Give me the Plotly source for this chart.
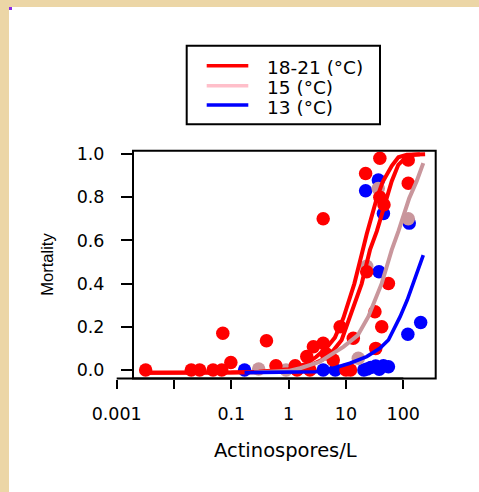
import math
import plotly.graph_objects as go

# ---------------- data ----------------
# observed mortality points
red_x = [0.0032, 0.020, 0.028, 0.048, 0.068, 0.071, 0.098, 0.41, 0.6, 1.3, 1.4, 2.07, 2.35, 2.7,
         4.0, 4.0, 4.5, 6.0, 7.9, 10, 12, 13.4, 22, 23, 32, 33, 39, 39, 46, 42, 55, 122, 122]
red_y = [0, 0, 0, 0, 0, 0.17, 0.035, 0.135, 0.02, 0.02, 0.0, 0.062, 0.0, 0.108,
         0.124, 0.70, 0.075, 0.046, 0.20, 0, 0, 0.147, 0.91, 0.455, 0.27, 0.10, 0.98, 0.80, 0.765, 0.20, 0.40, 0.972, 0.865]

pink_x = [0.3, 0.9, 16.4, 23, 36.5, 122]
pink_y = [0.005, 0.0, 0.054, 0.48, 0.84, 0.70]

blue_x = [0.17, 4.0, 6.5, 20.5, 23.5, 27, 33, 38, 45, 55, 22, 36.7, 45, 37.7, 127, 120, 201]
blue_y = [0, 0, 0, 0, 0.005, 0.012, 0.018, 0.003, 0.02, 0.015, 0.83, 0.88, 0.725, 0.455, 0.68, 0.165, 0.22]

# fitted curves
red_fit1_x = [0.0032, 0.03, 0.1, 0.3, 1, 2, 3, 4.5, 6.4, 9, 14, 19, 23, 34, 43.5, 63, 82, 115, 240]
red_fit1_y = [-0.013, -0.013, -0.012, -0.008, 0.004, 0.028, 0.06, 0.10, 0.15, 0.24, 0.40, 0.54, 0.63, 0.79, 0.87, 0.945, 0.985, 0.997, 0.999]

red_fit2_x = [0.0032, 0.1, 0.3, 1, 2, 4, 6, 8.4, 11.7, 18.8, 26.2, 34.4, 51.3, 62.8, 81.8, 107, 140, 195]
red_fit2_y = [-0.013, -0.012, -0.01, -0.002, 0.012, 0.05, 0.09, 0.139, 0.247, 0.40, 0.556, 0.642, 0.796, 0.874, 0.95, 0.981, 0.995, 0.999]

pink_fit_x = [0.25, 0.5, 1, 1.58, 3.5, 9, 16, 24.5, 32, 42, 51.3, 62.8, 82, 100, 127, 171, 223]
pink_fit_y = [-0.012, -0.01, -0.004, 0.008, 0.038, 0.107, 0.16, 0.247, 0.324, 0.401, 0.478, 0.556, 0.642, 0.719, 0.796, 0.874, 0.958]

blue_fit_x = [0.17, 1, 3, 6, 11.7, 23, 39, 55, 63, 88, 117, 150, 190, 223]
blue_fit_y = [-0.012, -0.011, -0.008, 0.008, 0.031, 0.062, 0.100, 0.139, 0.17, 0.247, 0.324, 0.401, 0.478, 0.532]

legend_labels = ["18-21 (\u00b0C)", "15 (\u00b0C)", "13 (\u00b0C)"]
x_tick_vals = [0.001, 0.01, 0.1, 1, 10, 100]
x_tick_text = ["0.001", "", "0.1", "1", "10", "100"]
y_tick_vals = [0, 0.2, 0.4, 0.6, 0.8, 1.0]
y_tick_text = ["0.0", "0.2", "0.4", "0.6", "0.8", "1.0"]

# ---------------- styling / layout ----------------
W, H = 479, 492
RED = "#ff0000"
PINK_PLOT = "#c9969c"
PINK_LEG = "#ffbfca"
BLUE = "#0000ff"
FONT = "DejaVu Sans"

def fx(p):
    return p / W

def fy(p):
    return 1 - p / H

x_dom = [fx(116.7), fx(435.7)]
x_rng = [-3.0, 2.565]
y_dom = [fy(378.5), fy(150.7)]
y_rng = [-0.0394, 1.0153]

def xfrac(v):
    return x_dom[0] + (math.log10(v) - x_rng[0]) / (x_rng[1] - x_rng[0]) * (x_dom[1] - x_dom[0])

fig = go.Figure()

def pts(x, y, c):
    fig.add_trace(go.Scatter(x=x, y=y, mode="markers", showlegend=False, hoverinfo="skip",
                             marker=dict(size=13.5, color=c, line=dict(width=0))))

def crv(x, y, c, w=4):
    fig.add_trace(go.Scatter(x=x, y=y, mode="lines", showlegend=False, hoverinfo="skip",
                             line=dict(color=c, width=w)))

pts(blue_x, blue_y, BLUE)
pts(pink_x, pink_y, PINK_PLOT)
pts(red_x, red_y, RED)
crv(red_fit1_x, red_fit1_y, RED)
crv(red_fit2_x, red_fit2_y, RED)
crv(pink_fit_x, pink_fit_y, PINK_PLOT)
crv(blue_fit_x, blue_fit_y, BLUE, 3.6)

shapes = []
# white panel on textured paper
shapes.append(dict(type="rect", xref="paper", yref="paper", x0=fx(9), x1=1.01, y0=-0.01, y1=fy(7),
                   fillcolor="white", line=dict(width=0), layer="below"))
shapes.append(dict(type="rect", xref="paper", yref="paper", x0=fx(9), x1=fx(12), y0=fy(10), y1=fy(7),
                   fillcolor="#8a2be2", line=dict(width=0), layer="below"))
# plot box
shapes.append(dict(type="rect", xref="paper", yref="paper", x0=fx(133), x1=x_dom[1], y0=y_dom[0], y1=y_dom[1],
                   line=dict(color="black", width=2), layer="above"))
# x axis line spanning first to last tick
shapes.append(dict(type="line", xref="paper", yref="paper", x0=xfrac(x_tick_vals[0]), x1=xfrac(x_tick_vals[-1]),
                   y0=y_dom[0], y1=y_dom[0], line=dict(color="black", width=2)))

# legend box
shapes.append(dict(type="rect", xref="paper", yref="paper", x0=fx(186.7), x1=fx(380), y0=fy(124.3), y1=fy(45.7),
                   line=dict(color="black", width=2), fillcolor="white"))
leg_colors = [RED, PINK_LEG, BLUE]
leg_ys = [65.7, 85.7, 105.0]
annotations = []
for lab, col, yy in zip(legend_labels, leg_colors, leg_ys):
    shapes.append(dict(type="line", xref="paper", yref="paper", x0=fx(206.7), x1=fx(248.3), y0=fy(yy), y1=fy(yy),
                       line=dict(color=col, width=3.5)))
    annotations.append(dict(text=lab, xref="paper", yref="paper", x=fx(265), y=fy(yy + 2),
                            xanchor="left", yanchor="middle", showarrow=False,
                            font=dict(family=FONT, size=18.5, color="black")))

annotations.append(dict(text="Actinospores/L", xref="paper", yref="paper", x=fx(285), y=fy(450),
                        xanchor="center", yanchor="middle", showarrow=False,
                        font=dict(family=FONT, size=19.5, color="black")))
annotations.append(dict(text="Mortality", xref="paper", yref="paper", x=fx(46.7), y=fy(264),
                        xanchor="center", yanchor="middle", showarrow=False, textangle=-90,
                        font=dict(family="Liberation Sans", size=16.5, color="black")))

fig.update_layout(
    template="none",
    width=W, height=H,
    margin=dict(l=0, r=0, t=0, b=0, pad=0, autoexpand=False),
    paper_bgcolor="#ecd6a6",
    plot_bgcolor="rgba(0,0,0,0)",
    showlegend=False,
    hovermode=False,
    shapes=shapes,
    annotations=annotations,
    xaxis=dict(type="log", domain=x_dom, range=x_rng, tickvals=x_tick_vals, ticktext=x_tick_text,
               ticks="outside", ticklen=9, tickwidth=2, tickcolor="black", automargin=False,
               showline=False, showgrid=False, zeroline=False, anchor="y",
               tickfont=dict(family=FONT, size=17.5, color="black"), ticklabelstandoff=10),
    yaxis=dict(domain=y_dom, range=y_rng, tickvals=y_tick_vals, ticktext=y_tick_text,
               ticks="outside", ticklen=12, tickwidth=2, tickcolor="black", automargin=False,
               showline=False, showgrid=False, zeroline=False, anchor="free", position=fx(133),
               tickfont=dict(family=FONT, size=17.5, color="black"), ticklabelstandoff=13),
)

fig.write_html("out.html", config={"displayModeBar": False, "staticPlot": True},
               post_script="document.body.style.margin='0px';document.body.style.overflow='hidden';")
